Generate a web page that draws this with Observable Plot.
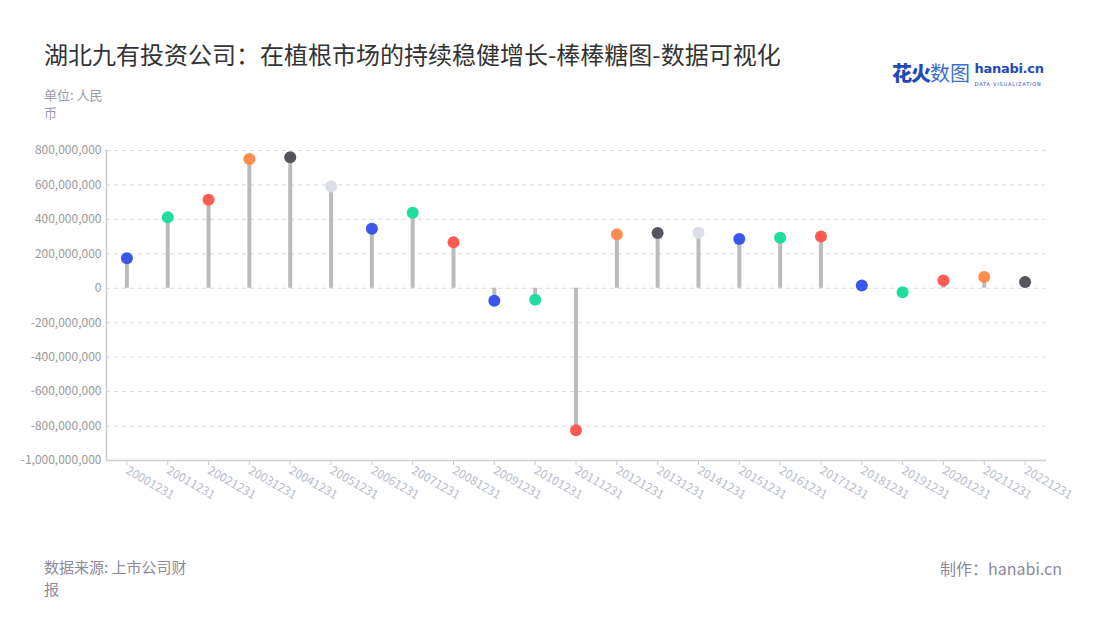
<!DOCTYPE html>
<html>
<head>
<meta charset="utf-8">
<script src="https://cdn.jsdelivr.net/npm/d3@7"></script>
<script src="https://cdn.jsdelivr.net/npm/@observablehq/plot@0.6"></script>
<style>
  html, body { margin: 0; padding: 0; background: #fff; }
  body { font-family: "Noto Sans CJK SC", "Noto Sans", sans-serif; }
  #wrap { position: relative; width: 1100px; height: 620px; overflow: hidden; }
  #chart { position: absolute; left: 0; top: 0; }
  .t { position: absolute; white-space: nowrap; }
  #title { left: 44px; top: 36px; font-size: 24px; color: #333; font-weight: 400; }
  #unit { left: 44px; top: 86px; font-size: 13px; color: #9a9aa8; line-height: 18px; }
  #source { left: 44px; top: 556px; font-size: 15px; color: #8a8a9a; line-height: 22px; }
  #credit { right: 38px; top: 556px; font-size: 16px; color: #8a8a9a; }
  #logo { left: 892px; top: 58px; }
</style>
</head>
<body>
<div id="wrap">
  <div id="title" class="t">湖北九有投资公司：在植根市场的持续稳健增长-棒棒糖图-数据可视化</div>
  <div id="unit" class="t">单位: 人民<br>币</div>
  <div id="logo" class="t">
    <span style="font-size:20px;font-weight:900;color:#1f4bb8;letter-spacing:-1px;">花火</span><span style="font-size:20px;color:#3a6fd6;">数图</span>
    <span style="display:inline-block;vertical-align:top;margin-left:1px;margin-top:3px;line-height:11px;">
      <span style="font-size:13px;font-weight:700;color:#1f4bb8;font-family:'DejaVu Sans',sans-serif;letter-spacing:-0.3px;">hanabi.cn</span><br>
      <span style="font-size:5px;color:#1f4bb8;letter-spacing:0.8px;font-family:'DejaVu Sans',sans-serif;">DATA VISUALIZATION</span>
    </span>
  </div>
  <div id="chart"></div>
  <div id="source" class="t">数据来源: 上市公司财<br>报</div>
  <div id="credit" class="t">制作：hanabi.cn</div>
</div>
<script>
const dates = ["20001231","20011231","20021231","20031231","20041231","20051231","20061231","20071231","20081231","20091231","20101231","20111231","20121231","20131231","20141231","20151231","20161231","20171231","20181231","20191231","20201231","20211231","20221231"];
const values = [175e6, 413e6, 514e6, 750e6, 761e6, 591e6, 346e6, 439e6, 267e6, -73e6, -66e6, -825e6, 313e6, 321e6, 323e6, 286e6, 294e6, 301e6, 16e6, -23e6, 45e6, 66e6, 37e6];
const dotColors = ["#3b57ea","#1edd9e","#ff5b52","#ff8d4e","#55555f","#dcdfe7","#3b57ea","#1edd9e","#ff5b52","#3b57ea","#1edd9e","#ff5b52","#ff8d4e","#55555f","#dcdfe7","#3b57ea","#1edd9e","#ff5b52","#3b57ea","#1edd9e","#ff5b52","#ff8d4e","#55555f"];
const yTicks = [-1000e6, -800e6, -600e6, -400e6, -200e6, 0, 200e6, 400e6, 600e6, 800e6];

const data = dates.map((d, i) => ({date: d, value: values[i], color: dotColors[i]}));
const fmt = v => d3.format(",")(v).replace("\u2212", "-");

const chart = Plot.plot({
  width: 1100,
  height: 620,
  marginLeft: 106,
  marginRight: 55,
  marginTop: 150,
  marginBottom: 160,
  style: {fontFamily: "'Noto Sans CJK SC', 'Noto Sans', sans-serif", background: "transparent"},
  x: {type: "band", domain: dates, padding: 0, round: false},
  y: {domain: [-1000e6, 800e6]},
  color: {type: "identity"},
  marks: [
    Plot.gridY(yTicks, {stroke: "#d8d8d8", strokeOpacity: 1, strokeDasharray: "4,4"}),
    Plot.axisY(yTicks, {tickFormat: fmt, tickSize: 0, tickPadding: 5, fill: "#9a9a9a", fontSize: 12, label: null}),
    Plot.axisX({tickSize: 5, stroke: "#cccccc", tickRotate: 30, fill: "#b8bccb", fontSize: 12, tickPadding: 4, label: null}),
    Plot.frame({anchor: "left", stroke: "#cccccc", strokeWidth: 1.5}),
    Plot.frame({anchor: "bottom", stroke: "#cccccc", strokeWidth: 1.5}),
    Plot.ruleX(data, {x: "date", y1: 0, y2: "value", stroke: "#bbbbbb", strokeWidth: 4}),
    Plot.dot(data, {x: "date", y: "value", fill: "color", r: 6, stroke: "none"})
  ]
});
document.getElementById("chart").appendChild(chart);
</script>
</body>
</html>
